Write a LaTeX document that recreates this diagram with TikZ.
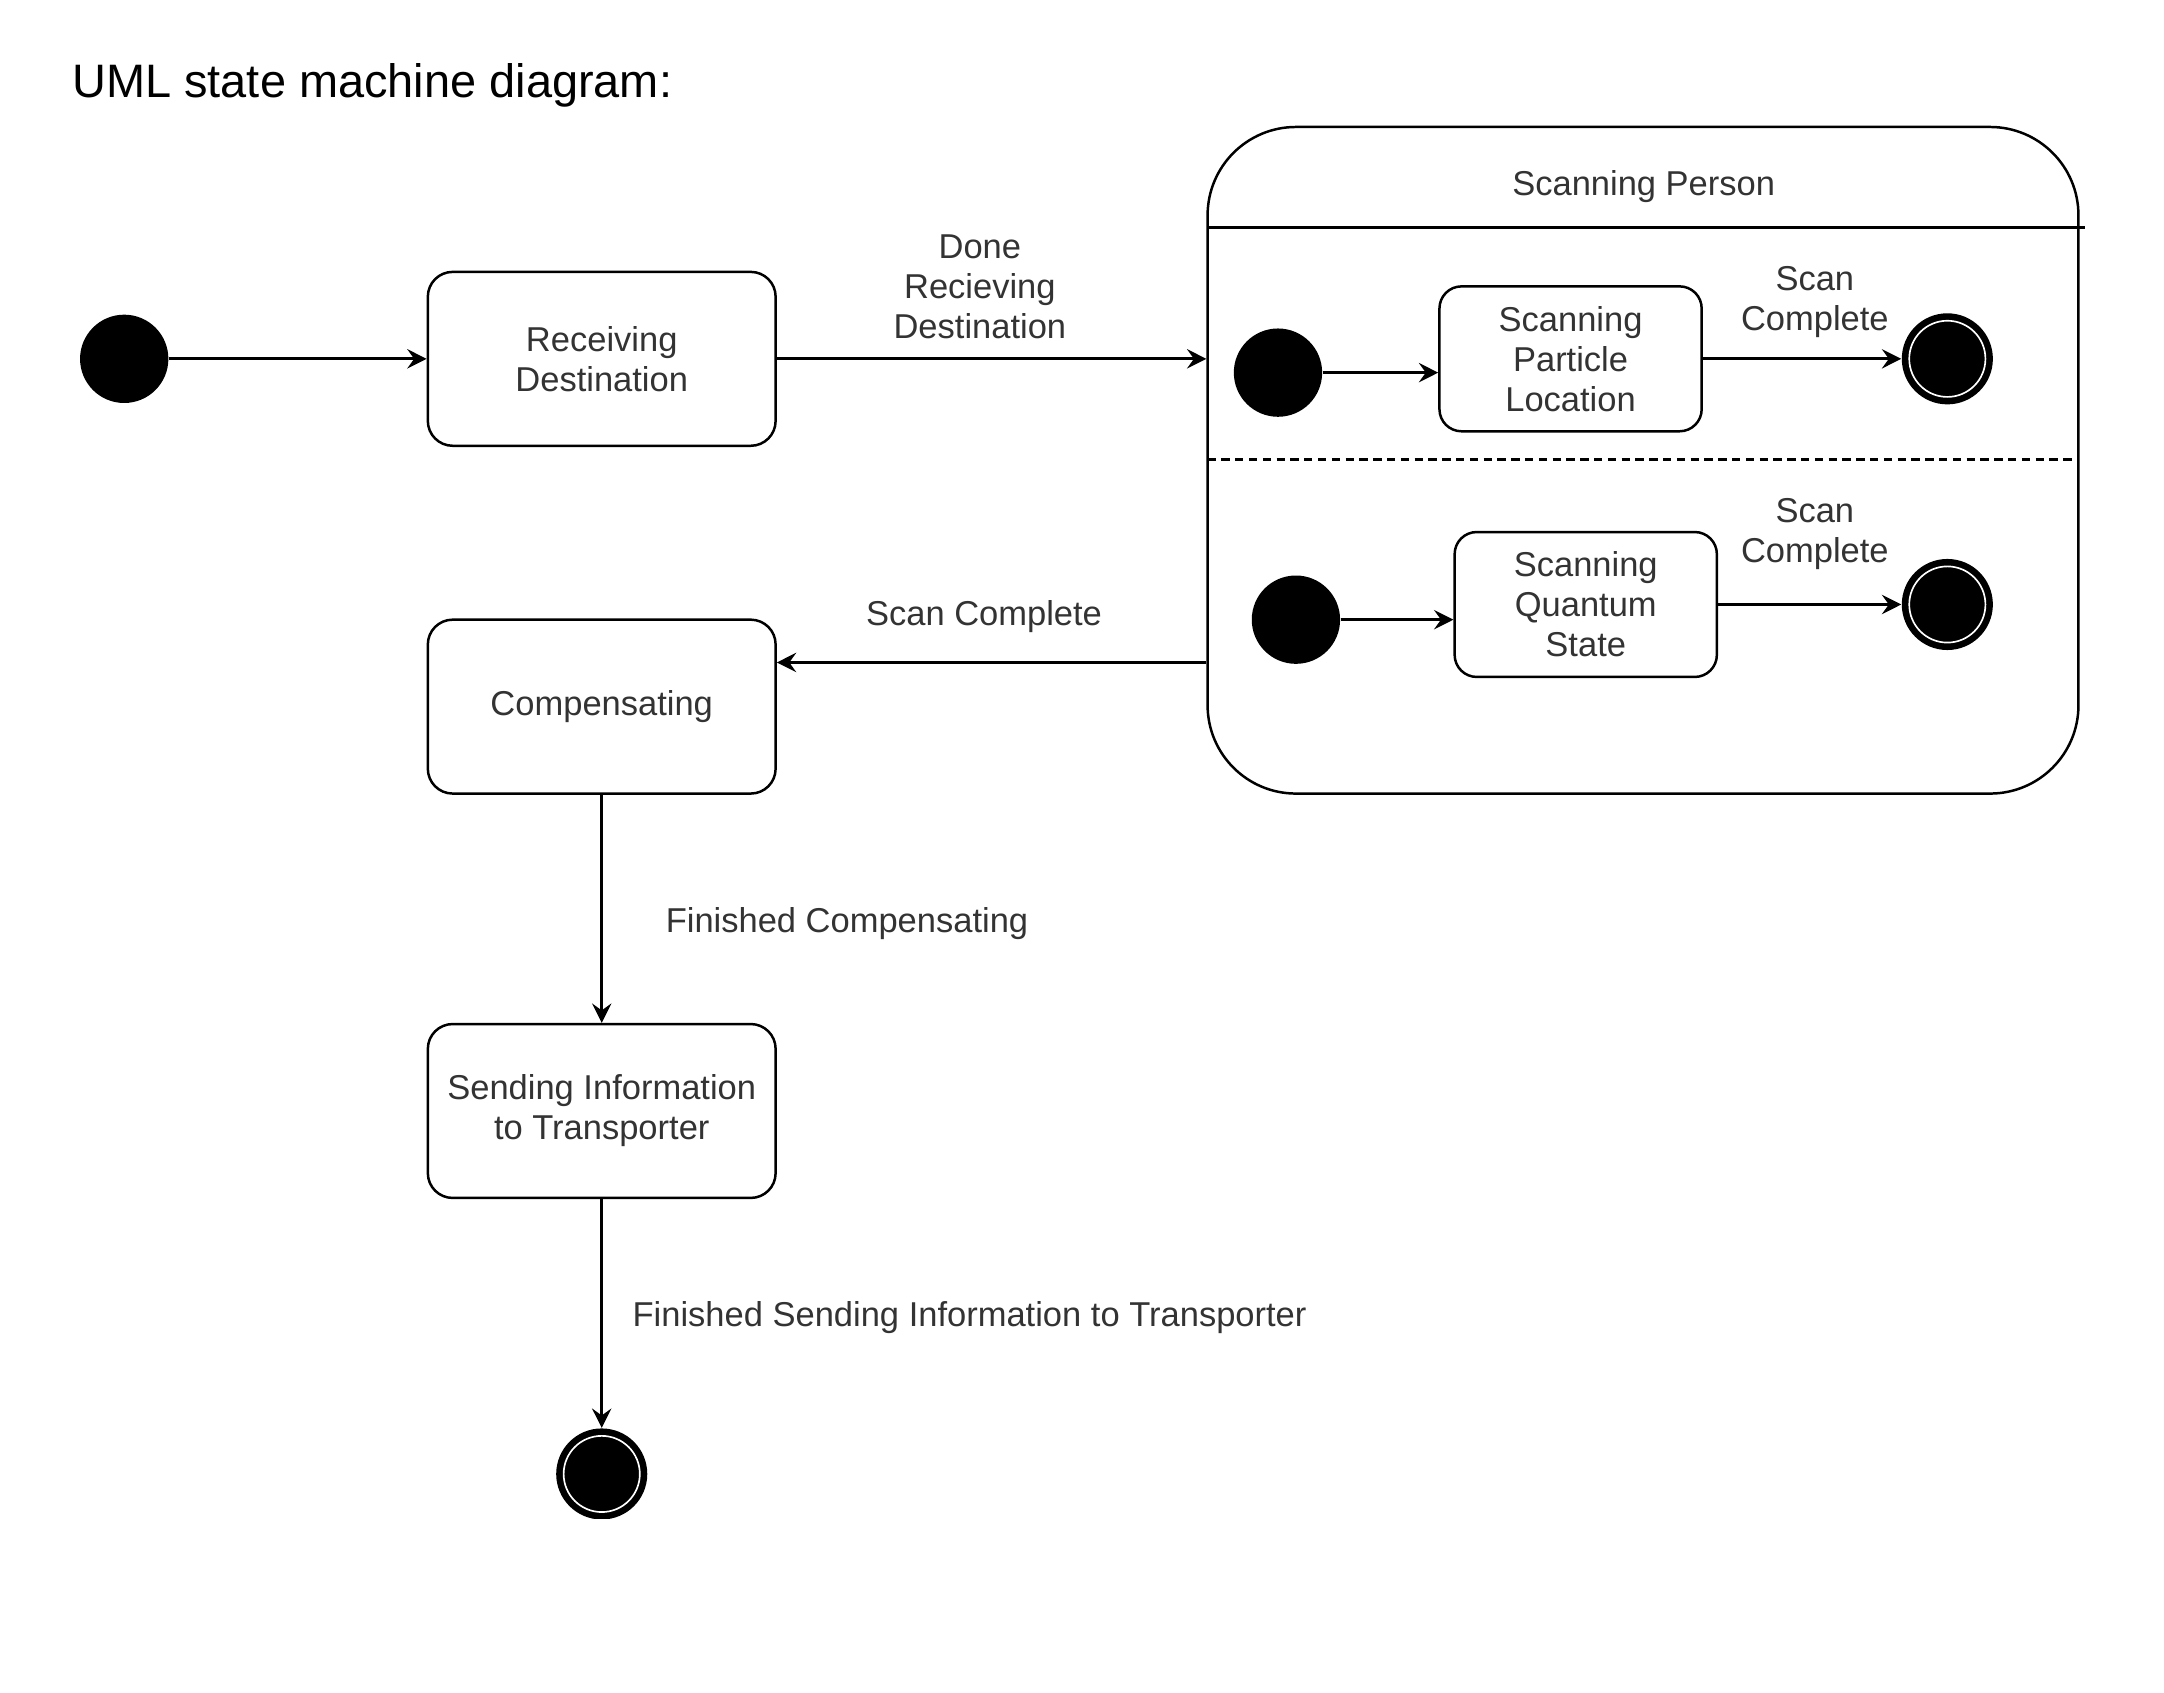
\documentclass[tikz,border=0pt]{standalone}
\usepackage{fontspec}
\setmainfont{Liberation Sans}
\usetikzlibrary{arrows.meta}
\begin{document}
\begin{tikzpicture}[x=0.5pt,y=-0.5pt,
  lbl/.style={text=black!80, font=\fontsize{12.5}{14.5}\selectfont, align=center, inner sep=0pt},
  statebox/.style={draw, line width=0.9pt, rounded corners=9pt, minimum width=126pt, minimum height=63pt, inner sep=0pt, align=center, text=black!80, font=\fontsize{12.5}{14.5}\selectfont},
  smallbox/.style={statebox, rounded corners=8pt, minimum width=95pt, minimum height=52.5pt},
  initst/.style={circle, fill=black, minimum size=32pt, inner sep=0pt},
  finalst/.style={circle, fill=black, minimum size=33pt, inner sep=0pt,
    path picture={\draw[white, line width=0.6pt] (path picture bounding box.center) circle (13.8pt);}},
  arr/.style={line width=1pt, -{Stealth[length=7pt,width=7pt,inset=2.5pt]}}
]
\useasboundingbox (0,0) rectangle (1568,1226);
\fill[white] (0,0) rectangle (1568,1226);

% title
\node[anchor=west, inner sep=0pt, font=\fontsize{17}{20}\selectfont] (title) at (52,62) {UML state machine diagram:};

% composite state
\node[draw, line width=0.9pt, rounded corners=32pt, minimum width=315.5pt, minimum height=241.5pt, inner sep=0pt] (comp) at (1190.5,333.5) {};
\draw[line width=0.9pt] (875,165) -- (1511,165);
\draw[line width=0.8pt, dash pattern=on 3pt off 2pt] (875,333) -- (1506,333);
\node[lbl] (comptitle) at (1191,135) {Scanning Person};

% states
\node[initst] (i0) at (90,260) {};
\node[statebox] (recv) at (436,260) {Receiving\\Destination};
\node[statebox] (compens) at (436,512) {Compensating};
\node[statebox] (send) at (436,805) {Sending Information\\to Transporter};

\node[initst] (i1) at (926,270) {};
\node[smallbox] (b1) at (1138,260) {Scanning\\Particle\\Location};
\node[finalst] (f1) at (1411,260) {};

\node[initst] (i2) at (939,449) {};
\node[smallbox] (b2) at (1149,438) {Scanning\\Quantum\\State};
\node[finalst] (f2) at (1411,438) {};

\begin{scope}
\clip (350,950) rectangle (520,1100);
\node[finalst] (fin) at (436,1068) {};
\end{scope}

% transitions
\draw[arr] (i0) -- (recv);
\draw[arr] (recv.east) -- (recv.east -| comp.west);
\coordinate (scy) at (0,480);
\draw[arr] (comp.west |- scy) -- (compens.east |- scy);
\draw[arr] (compens) -- (send);
\draw[arr] (send) -- (fin);
\draw[arr] (i1) -- (i1 -| b1.west);
\draw[arr] (b1.east) -- (f1);
\draw[arr] (i2) -- (i2 -| b2.west);
\draw[arr] (b2.east) -- (f2);

% labels
\node[lbl] (l1) at (710,208) {Done\\Recieving\\Destination};
\node[lbl] (l2) at (713,447) {Scan Complete};
\node[lbl, anchor=west] (l3) at (482,669) {Finished Compensating};
\node[lbl, anchor=west] (l4) at (458,955) {Finished Sending Information to Transporter};
\node[lbl] (l5) at (1315,219) {Scan\\Complete};
\node[lbl] (l6) at (1315,387) {Scan\\Complete};
\end{tikzpicture}
\end{document}
